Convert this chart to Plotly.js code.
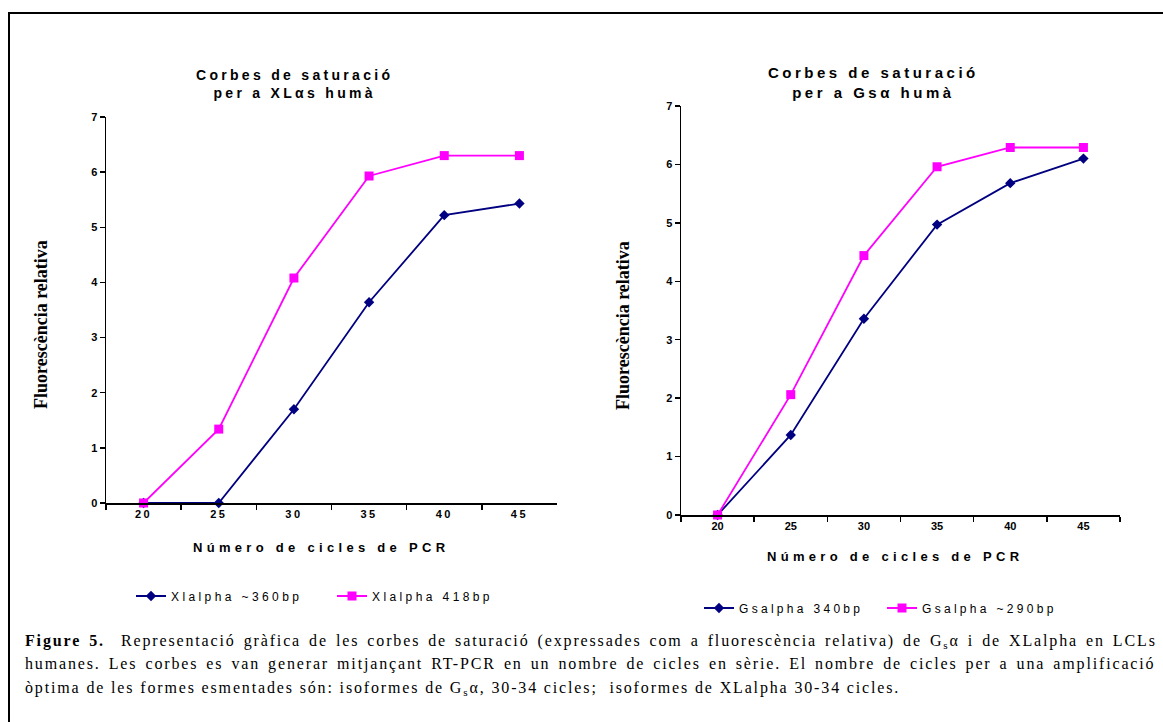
<!DOCTYPE html>
<html>
<head>
<meta charset="utf-8">
<script src="https://cdn.plot.ly/plotly-3.0.1.min.js"></script>
<style>
  html, body { margin:0; padding:0; background:#fff; }
  #chart { width:1163px; height:722px; }
  .xtick text { letter-spacing: 2.5px; }
</style>
</head>
<body>
<div id="chart"></div>
<script>
// ---- data ----
var cycles = ['20', '25', '30', '35', '40', '45'];
var xl360 = [0, 0, 1.70, 3.64, 5.22, 5.43];
var xl418 = [0, 1.34, 4.08, 5.93, 6.30, 6.30];
var gs340 = [0, 1.37, 3.36, 4.97, 5.68, 6.10];
var gs290 = [0, 2.06, 4.44, 5.96, 6.29, 6.29];
var yTicks = [0, 1, 2, 3, 4, 5, 6, 7];
var names = ['Xlalpha ~360bp', 'Xlalpha 418bp', 'Gsalpha 340bp', 'Gsalpha ~290bp'];

var navy = '#000080', magenta = '#FF00FF';
var sans = 'Liberation Sans, Arial, sans-serif';
var serif = 'Liberation Serif, Times New Roman, serif';

function sp(txt, ls, ws) {
  return '<span style="letter-spacing:' + ls + 'px' + (ws ? ';word-spacing:' + ws + 'px' : '') + '">' + txt + '</span>';
}

var traces = [
  {x: cycles, y: xl360, name: sp(names[0], 3.4), xaxis:'x', yaxis:'y', legend:'legend', cliponaxis:false,
   mode:'lines+markers', line:{color:navy, width:1.8}, marker:{symbol:'diamond', size:8, color:navy}},
  {x: cycles, y: xl418, name: sp(names[1], 3.4), xaxis:'x', yaxis:'y', legend:'legend', cliponaxis:false,
   mode:'lines+markers', line:{color:magenta, width:1.8}, marker:{symbol:'square', size:9, color:magenta}},
  {x: cycles, y: gs340, name: sp(names[2], 3.3), xaxis:'x2', yaxis:'y2', legend:'legend2', cliponaxis:false,
   mode:'lines+markers', line:{color:navy, width:1.8}, marker:{symbol:'diamond', size:8, color:navy}},
  {x: cycles, y: gs290, name: sp(names[3], 3.3), xaxis:'x2', yaxis:'y2', legend:'legend2', cliponaxis:false,
   mode:'lines+markers', line:{color:magenta, width:1.8}, marker:{symbol:'square', size:9, color:magenta}}
];

function xax(domain, anchor) {
  return {domain: domain, anchor: anchor, type:'category', range:[-0.5, 5.5], showgrid:false, zeroline:false,
    showline:true, linecolor:'#000', linewidth:1.5, ticks:'outside', tickson:'boundaries',
    ticklen:5, tickcolor:'#000', tickwidth:1.5, fixedrange:true,
    tickfont:{family:sans, size:11, color:'#000', weight:'bold'}};
}
function yax(domain, anchor) {
  return {domain: domain, anchor: anchor, range:[0, 7], tickvals: yTicks, showgrid:false, zeroline:false,
    showline:true, linecolor:'#000', linewidth:1.5, ticks:'outside', ticklen:5,
    tickcolor:'#000', tickwidth:1.5, fixedrange:true,
    tickfont:{family:sans, size:11, color:'#000', weight:'bold'}};
}

var W = 1163, H = 722;
function px(x){ return x / W; }
function py(y){ return (H - y) / H; }

var legFont = {family:sans, size:12, color:'#000'};

function ann(text, x, y, font, extra) {
  var a = {text:text, xref:'paper', yref:'paper', x:px(x), y:py(y), xanchor:'center', yanchor:'middle',
    showarrow:false, font:font};
  for (var k in (extra || {})) a[k] = extra[k];
  return a;
}

var layout = {
  width: W, height: H, margin:{l:0, r:0, t:0, b:0},
  paper_bgcolor:'#fff', plot_bgcolor:'rgba(0,0,0,0)',
  showlegend: true,
  xaxis: xax([px(106), px(557)], 'y'),
  yaxis: yax([py(503), py(117)], 'x'),
  xaxis2: xax([px(681), px(1120)], 'y2'),
  yaxis2: yax([py(515), py(106)], 'x2'),
  legend: {orientation:'h', x:px(131), xanchor:'left', y:py(596), yanchor:'middle',
    font:legFont, bgcolor:'rgba(0,0,0,0)', itemwidth:30, entrywidth:156},
  legend2: {orientation:'h', x:px(699), xanchor:'left', y:py(608), yanchor:'middle',
    font:legFont, bgcolor:'rgba(0,0,0,0)', itemwidth:30, entrywidth:138},
  annotations: [
    ann('<b>' + sp('Corbes de saturació', 3.3) + '<br>' + sp('per a XLαs humà', 3.3) + '</b>', 294, 84,
        {family:sans, size:14, color:'#000'}),
    ann('<b>' + sp('Corbes de saturació', 3.5) + '<br>' + sp('per a Gsα humà', 3.5) + '</b>', 873, 82,
        {family:sans, size:15, color:'#000'}),
    ann('<b>' + sp('Número de cicles de PCR', 4.3) + '</b>', 321, 547, {family:sans, size:13, color:'#000'}),
    ann('<b>' + sp('Número de cicles de PCR', 4.3) + '</b>', 895, 556, {family:sans, size:13, color:'#000'}),
    ann('<b>Fluorescència relativa</b>', 41, 325, {family:serif, size:18, color:'#000'}, {textangle:-90}),
    ann('<b>Fluorescència relativa</b>', 623, 326, {family:serif, size:18, color:'#000'}, {textangle:-90}),
    ann(sp('<b>Figure 5.</b>  Representació gràfica de les corbes de saturació (expressades com a fluorescència relativa) de G<sub>s</sub>α i de XLalpha en LCLs', 1.85, 2.2),
        23, 641, {family:serif, size:16, color:'#000'}, {xanchor:'left'}),
    ann(sp('humanes. Les corbes es van generar mitjançant RT-PCR en un nombre de cicles en sèrie. El nombre de cicles per a una amplificació', 1.85, 2.2),
        23, 664, {family:serif, size:16, color:'#000'}, {xanchor:'left'}),
    ann(sp('òptima de les formes esmentades són: isoformes de G<sub>s</sub>α, 30-34 cicles;  isoformes de XLalpha 30-34 cicles.', 1.85),
        23, 688, {family:serif, size:16, color:'#000'}, {xanchor:'left'})
  ],
  shapes: [
    {type:'rect', xref:'paper', yref:'paper', x0:px(9), x1:px(1180), y0:py(13), y1:py(740),
     line:{color:'#000', width:2}, fillcolor:'rgba(0,0,0,0)'}
  ]
};

Plotly.newPlot('chart', traces, layout, {displayModeBar:false, staticPlot:true});
</script>
</body>
</html>
